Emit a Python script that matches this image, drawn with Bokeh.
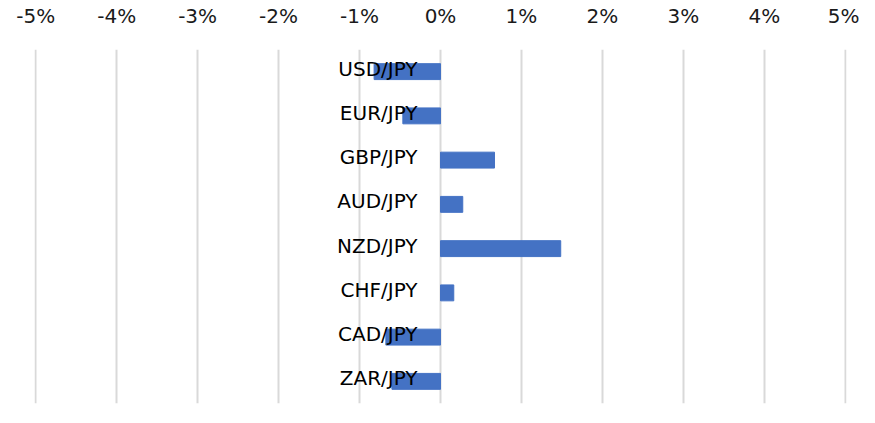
from bokeh.plotting import figure
from bokeh.models import FactorRange, FixedTicker, LinearAxis, ColumnDataSource
from bokeh.core.properties import value
from bokeh.embed import file_html
from bokeh.resources import INLINE

pairs = ["USD/JPY", "EUR/JPY", "GBP/JPY", "AUD/JPY", "NZD/JPY", "CHF/JPY", "CAD/JPY", "ZAR/JPY"]
changes = [-0.82, -0.465, 0.667, 0.275, 1.485, 0.164, -0.675, -0.60]
tick_values = [-5, -4, -3, -2, -1, 0, 1, 2, 3, 4, 5]
tick_labels = ["-5%", "-4%", "-3%", "-2%", "-1%", "0%", "1%", "2%", "3%", "4%", "5%"]

src = ColumnDataSource(dict(pair=pairs, change=changes, zero=[0] * len(pairs)))

p = figure(width=859, height=407, output_backend="svg", toolbar_location=None,
           x_range=(-5.015, 5.015), y_range=FactorRange(factors=pairs[::-1]),
           x_axis_location=None, y_axis_location=None,
           min_border_left=34, min_border_right=13, min_border_top=45, min_border_bottom=4)
p.outline_line_color = None
p.ygrid.grid_line_color = None
p.xgrid.ticker = FixedTicker(ticks=tick_values)
p.xgrid.grid_line_color = "#d9d9d9"
p.xgrid.grid_line_width = 2

ax = LinearAxis(ticker=FixedTicker(ticks=tick_values),
                major_label_overrides={v: l for v, l in zip(tick_values, tick_labels)})
ax.axis_line_color = None
ax.major_tick_line_color = None
ax.minor_tick_line_color = None
ax.major_tick_out = 0
ax.major_label_standoff = 22
ax.major_label_text_font = "DejaVu Sans"
ax.major_label_text_font_size = "20px"
ax.major_label_text_color = "#1a1a1a"
p.add_layout(ax, "above")

p.hbar(y="pair", left="zero", right="change", height=0.36, color="#4472C4", source=src)

p.text(x="zero", y="pair", text="pair", source=src, x_offset=-23,
       text_align="right", text_baseline="middle",
       text_font=value("DejaVu Sans"), text_font_size="20px", text_color="#000000",
       y_offset=-3)

open("out.html", "w").write(file_html(p, INLINE))
